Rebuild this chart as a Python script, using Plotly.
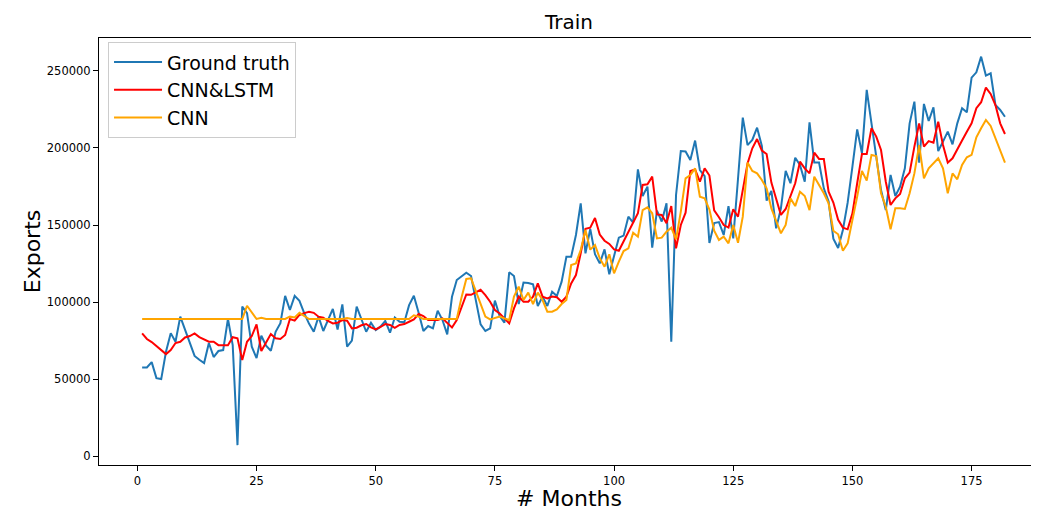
import plotly.graph_objects as go

months = list(range(1, 183))

ground_truth = [
    57500, 57500, 61000, 50600, 50000, 67700, 79800, 74200, 90500, 82000,
    73500, 65000, 62500, 60400, 73400, 64300, 68200, 68800, 89000, 72000,
    7100, 97000, 92800, 71000, 63600, 78100, 71600, 68400, 80700, 86300,
    104000, 94800, 104000, 100800, 92800, 86000, 80700, 90500, 81200, 88000,
    95500, 82200, 98500, 71000, 74900, 97000, 89000, 80700, 86600, 81800,
    84000, 87700, 80100, 90000, 87200, 86900, 98000, 104100, 93000, 81200,
    84400, 82900, 94400, 88300, 79000, 103400, 114300, 116500, 119000, 116900,
    101000, 85500, 81200, 82900, 100900, 90900, 86600, 119300, 116900, 98700,
    112600, 112400, 111500, 97400, 103500, 97400, 106700, 103900, 113200, 129400,
    129400, 143500, 164100, 131600, 147500, 131000, 125100, 134200, 118000, 129400,
    141800, 143100, 155400, 151500, 186100, 168800, 174900, 135300, 159300, 152200,
    164100, 74200, 169500, 198000, 197700, 192200, 204800, 185700, 181800, 138300,
    151300, 151900, 143500, 162300, 141300, 180000, 219700, 201900, 205200, 213200,
    201300, 165800, 172100, 147800, 160800, 185100, 177100, 193700, 189000, 178100,
    216700, 190500, 190500, 173800, 165200, 141100, 135100, 146800, 164500, 187900,
    212100, 196500, 237700, 216000, 195500, 172700, 159700, 182500, 168800, 174900,
    186800, 216000, 230100, 190500, 228600, 217500, 226400, 198000, 204100, 210600,
    202400, 216000, 225800, 223200, 245700, 249100, 259300, 247000, 248500, 227900,
    224700, 220300,
]

cnn_lstm = [
    79600, 76000, 74000, 71400, 68400, 66200, 68800, 73400, 74200, 77000,
    77900, 79600, 77200, 75800, 74200, 74200, 72000, 72000, 72000, 77200,
    76500, 62300, 74200, 77900, 85500, 68200, 73400, 79200, 76500, 76000,
    78600, 89000, 87900, 91600, 92800, 93700, 93000, 90500, 89900, 87700,
    86100, 86600, 88300, 87900, 82900, 83300, 84900, 85700, 83500, 82200,
    83800, 85700, 85100, 83300, 85100, 85700, 87200, 88700, 92200, 90900,
    88300, 88300, 88300, 89400, 86600, 83500, 88300, 96000, 104900, 104700,
    106100, 107900, 104500, 100200, 94800, 92600, 89400, 86100, 95900, 103500,
    100200, 100200, 103500, 112100, 103500, 102400, 103500, 103100, 100200, 103500,
    112100, 117500, 131600, 147500, 148300, 154500, 143800, 139800, 137700, 134200,
    133300, 139200, 145700, 151100, 157600, 176000, 176400, 181400, 156900, 156500,
    151100, 162300, 134800, 150000, 158000, 185100, 186000, 178100, 186800, 182100,
    159500, 155000, 150000, 148300, 160200, 155400, 171600, 190000, 199800, 205800,
    198300, 196100, 177500, 167300, 156500, 160400, 168400, 177100, 191100, 186800,
    183500, 197000, 192900, 192900, 171600, 164600, 153400, 148300, 147200, 157600,
    177100, 196100, 196100, 212800, 207400, 198700, 178100, 163000, 167300, 170100,
    180300, 184000, 200900, 216000, 200900, 204500, 203500, 217100, 201900, 190500,
    193300, 198700, 204800, 210600, 216000, 225800, 229700, 239200, 235100, 227900,
    216000, 209100,
]

cnn = [
    89000, 89000, 89000, 89000, 89000, 89000, 89000, 89000, 89000, 89000,
    89000, 89000, 89000, 89000, 89000, 89000, 89000, 89000, 89000, 89000,
    89000, 89000, 97600, 93000, 89000, 89800, 89000, 89000, 89000, 89000,
    89000, 90500, 90000, 93000, 91000, 89000, 89000, 89000, 89000, 89000,
    89000, 89000, 89000, 89600, 89000, 89000, 89000, 89000, 89000, 89000,
    89000, 89000, 89000, 89000, 89000, 89000, 89000, 91400, 90500, 89000,
    89000, 89000, 89000, 89000, 89000, 89000, 89000, 103000, 115000, 115400,
    106700, 98000, 90500, 88700, 89400, 90500, 89400, 88300, 103500, 110000,
    101300, 106100, 98700, 106100, 101300, 93700, 93700, 95200, 98700, 101300,
    124000, 125100, 133800, 146800, 134000, 137000, 128400, 122900, 131000, 118600,
    126200, 133100, 134800, 145000, 142400, 159700, 161500, 157600, 141300, 141800,
    145700, 148300, 140700, 158700, 180300, 182500, 186800, 168400, 167300, 160000,
    146300, 140300, 142400, 138100, 150000, 138500, 155400, 190500, 185100, 183500,
    179200, 173800, 160800, 152200, 144600, 150000, 167300, 162300, 171600, 168800,
    159700, 181400, 176000, 170600, 164100, 146300, 144000, 133300, 138100, 152200,
    168400, 185100, 178800, 195500, 194800, 170600, 161900, 147200, 160800, 160800,
    160400, 170600, 183500, 201900, 180300, 186800, 190000, 193300, 186800, 170600,
    183500, 179700, 189000, 194000, 195500, 206900, 212800, 218200, 214300, 206300,
    198700, 190500,
]

x_ticks = [0, 25, 50, 75, 100, 125, 150, 175]
y_ticks = [0, 50000, 100000, 150000, 200000, 250000]

FONT = "DejaVu Sans"

fig = go.Figure()
fig.add_trace(go.Scatter(x=months, y=ground_truth, mode="lines", name="Ground truth",
                         line=dict(color="#1f77b4", width=2)))
fig.add_trace(go.Scatter(x=months, y=cnn_lstm, mode="lines", name="CNN&LSTM",
                         line=dict(color="#ff0000", width=2)))
fig.add_trace(go.Scatter(x=months, y=cnn, mode="lines", name="CNN",
                         line=dict(color="#ffa500", width=2)))

# the page body adds an 8px offset, so the figure is sized to the visible area
fig.update_layout(
    template="none",
    width=1031, height=503,
    margin=dict(l=91, r=0, t=30, b=46, pad=0),
    paper_bgcolor="white", plot_bgcolor="white",
    font=dict(family=FONT, color="black"),
    title=dict(text="Train", x=0.5, xref="paper", xanchor="center",
               y=0.972, yref="container", yanchor="middle",
               font=dict(family=FONT, size=20, color="black")),
    showlegend=True,
    legend=dict(x=0.0096, y=0.99, xanchor="left", yanchor="top",
                bgcolor="rgba(255,255,255,0.8)", bordercolor="#cccccc", borderwidth=1,
                font=dict(family=FONT, size=19, color="black"),
                itemwidth=48, tracegroupgap=0),
)
fig.update_xaxes(
    automargin=False,
    range=[-8.05, 189.14], tickvals=x_ticks, ticktext=[str(v) for v in x_ticks],
    showgrid=False, zeroline=False, showline=True, linecolor="black", linewidth=1,
    mirror=True, ticks="outside", ticklen=5, tickcolor="black",
    tickfont=dict(family=FONT, size=11.5, color="black"),
    title=dict(text="# Months", font=dict(family=FONT, size=22, color="black"), standoff=7),
)
fig.update_yaxes(
    automargin=False,
    range=[-5800, 271400], tickvals=y_ticks, ticktext=[str(v) for v in y_ticks],
    showgrid=False, zeroline=False, showline=True, linecolor="black", linewidth=1,
    ticks="outside", ticklen=5, tickcolor="black",
    tickfont=dict(family=FONT, size=11.5, color="black"),
    title=dict(text="Exports", font=dict(family=FONT, size=22, color="black"), standoff=0),
)

fig.write_html("out.html")
